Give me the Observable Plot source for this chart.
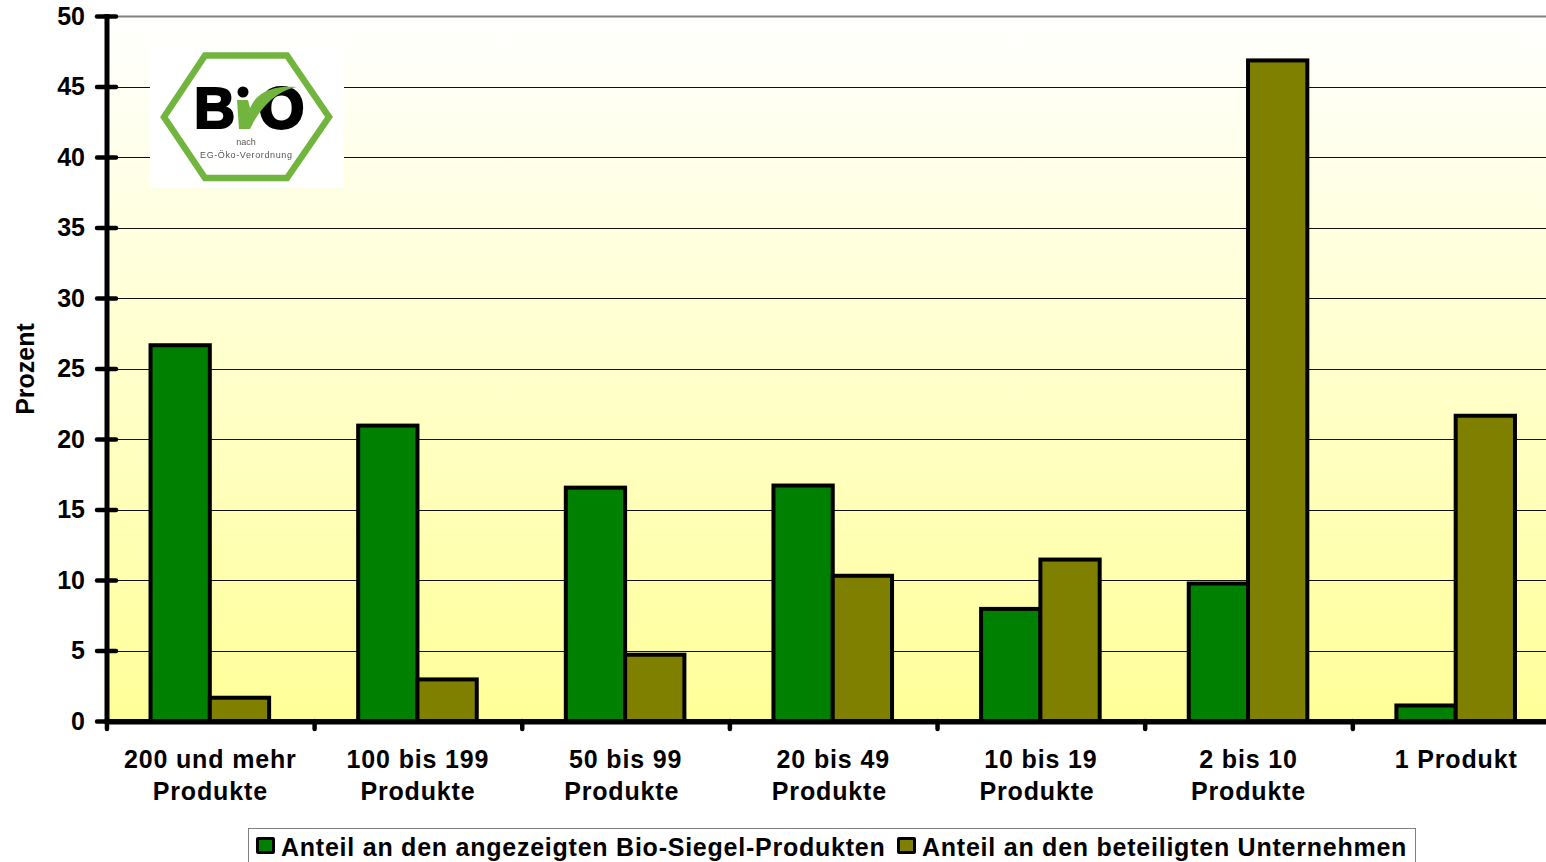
<!DOCTYPE html>
<html lang="de"><head><meta charset="utf-8">
<script src="https://cdn.jsdelivr.net/npm/d3@7"></script>
<script src="https://cdn.jsdelivr.net/npm/@observablehq/plot@0.6"></script>
<style>
html,body{margin:0;padding:0;background:#fff;width:1546px;height:862px;overflow:hidden;font-family:"Liberation Sans",Arial,sans-serif;font-weight:bold;color:#000}
#wrap{position:relative;width:1546px;height:862px;overflow:hidden}
#chart svg{display:block}
#chart [aria-label="fx-axis tick label"]{letter-spacing:.85px}
#logo{position:absolute;left:150px;top:46px;filter:blur(.4px)}
#legend{position:absolute;left:248px;top:828px;width:1168px;height:60px;box-sizing:border-box;border:1.5px solid #808080;background:#fff;font-size:25px;letter-spacing:.76px;white-space:nowrap}
#legend span.s{position:absolute;top:8px;width:19px;height:17px;box-sizing:border-box;border:3.5px solid #000;border-radius:2px}
#legend span.t{position:absolute;top:4px;line-height:29px}
</style></head><body>
<div id="wrap">
<div id="chart"></div>
<svg id="logo" width="194" height="142" viewBox="150 46 194 142" xmlns="http://www.w3.org/2000/svg">
<rect x="150" y="46" width="194" height="142" fill="#fff"/>
<path d="M205 55.5 L287 55.5 L329 117 L287 178 L205 178 L164 117 Z" fill="none" stroke="#72B53E" stroke-width="6.5"/>
<text x="194" y="128" font-family="Liberation Sans" font-weight="bold" font-size="57" stroke="#000" stroke-width="2.2" fill="#000" textLength="36">B</text>
<text x="259" y="127.5" font-family="Liberation Sans" font-weight="bold" font-size="58" stroke="#000" stroke-width="3" fill="#000">O</text>
<circle cx="243" cy="92" r="5.5" fill="#000"/>
<path d="M237 100 L248 100 L250 108 C256 95 268 85 297 87 C277 90 260 108 250 129 L239 129 Z" fill="#72B53E"/>
<text x="246" y="145" text-anchor="middle" font-family="Liberation Sans" font-weight="normal" font-size="9" fill="#555">nach</text>
<text x="246" y="158" text-anchor="middle" font-family="Liberation Sans" font-weight="normal" font-size="9" fill="#555" textLength="92">EG-Öko-Verordnung</text>
</svg>
<div id="legend">
<span class="s" style="left:7px;background:#008000"></span><span class="t" style="left:32px" id="l0"></span>
<span class="s" style="left:648px;background:#808000"></span><span class="t" style="left:673px" id="l1"></span>
</div>
</div>
<script>
const categories = ["200 und mehr\nProdukte","100 bis 199\nProdukte","50 bis 99\nProdukte ","20 bis 49\nProdukte ","10 bis 19\nProdukte ","2 bis 10\nProdukte","1 Produkt"];
const seriesNames = ["Anteil an den angezeigten Bio-Siegel-Produkten","Anteil an den beteiligten Unternehmen"];
const siegelProdukte = [26.65,20.95,16.55,16.7,7.95,9.75,1.1];
const unternehmen = [1.65,2.95,4.7,10.3,11.45,46.85,21.65];
const yTicks = [0,5,10,15,20,25,30,35,40,45,50];
const gridTicks = [5,10,15,20,25,30,35,40,45];
const colors = ["#008000","#808000"];

const rows = categories.flatMap((c,i)=>[
  {category:c,series:seriesNames[0],value:siegelProdukte[i]},
  {category:c,series:seriesNames[1],value:unternehmen[i]}
]);
document.getElementById("l0").textContent = seriesNames[0];
document.getElementById("l1").textContent = seriesNames[1];

const font = {fontSize:25,fontWeight:"bold",fontFamily:"Liberation Sans"};
const halfStep = 103.86;

const plot = Plot.plot({
  width:1546,height:826,
  marginTop:16,marginBottom:105,marginLeft:106.5,marginRight:-14,
  style:{fontFamily:"Liberation Sans",fontWeight:"bold",background:"transparent",overflow:"hidden",maxWidth:"none"},
  fx:{domain:categories,padding:0,round:false,label:null},
  x:{domain:seriesNames,paddingInner:0,paddingOuter:0.751,round:false,axis:null},
  y:{domain:[0,50],label:null},
  color:{domain:seriesNames,range:colors},
  marks:[
    Plot.frame({fill:"url(#bg)",stroke:null,facet:"super"}),
    Plot.ruleY(gridTicks,{stroke:"#111",strokeWidth:1,shapeRendering:"crispEdges"}),
    Plot.frame({anchor:"top",stroke:"#808080",strokeWidth:2,facet:"super"}),
    Plot.barY(rows,{fx:"category",x:"series",y:"value",fill:"series",stroke:"#000",strokeWidth:4,strokeLinejoin:"miter",dx:-0.5}),
    Plot.frame({anchor:"bottom",stroke:"#808080",strokeWidth:2,dy:2.5,facet:"super"}),
    Plot.frame({anchor:"bottom",stroke:"#000",strokeWidth:5,facet:"super"}),
    Plot.frame({anchor:"left",stroke:"#000",strokeWidth:5,facet:"super"}),
    Plot.axisY({ticks:yTicks,tickFormat:d=>String(d),tickSize:19,dx:9.5,tickPadding:12.5,stroke:"#000",strokeWidth:4.5,strokeLinecap:"round",...font,
      label:"Prozent",labelAnchor:"center",labelArrow:"none",labelOffset:91}),
    Plot.axisFx({anchor:"bottom",tickSize:8,dx:-halfStep,tickFormat:null,stroke:"#000",strokeWidth:4.5,strokeLinecap:"round",label:null}),
    Plot.axisFx({anchor:"bottom",tickSize:0,tickPadding:24,dx:-0.5,lineHeight:1.28,label:null,...font})
  ]
});
d3.select(plot).insert("defs",":first-child").html(
 `<linearGradient id="bg" x1="0" y1="0" x2="0" y2="1"><stop offset="0" stop-color="#ffffff"/><stop offset="1" stop-color="#ffff99"/></linearGradient>`);
document.getElementById("chart").append(plot);
</script>
</body></html>
